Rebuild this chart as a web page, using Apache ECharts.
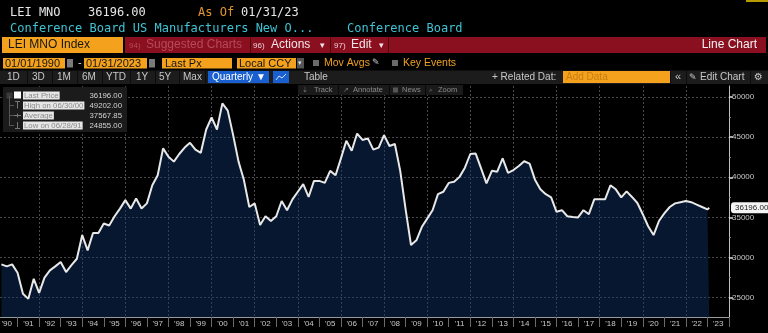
<!DOCTYPE html>
<html><head><meta charset="utf-8">
<script src="https://cdn.jsdelivr.net/npm/echarts@6/dist/echarts.min.js"></script>
<style>html,body{margin:0;padding:0;background:#000;}#c{width:768px;height:333px;}</style>
</head><body><div id="c"></div>
<script>
// ---- data ----
const yearLabels = ["'90","'91","'92","'93","'94","'95","'96","'97","'98","'99","'00","'01","'02","'03","'04","'05","'06","'07","'08","'09","'10","'11","'12","'13","'14","'15","'16","'17","'18","'19","'20","'21","'22","'23"];
// quarterly values 1990Q1 .. 2022Q4
const quarterlyValues = [
 29150,28900,29150,28100, 25500,24855,27350,25600, 27500,28400,28900,29450, 28200,29050,29850,32800,
 30900,33050,33050,34250, 34000,35150,36100,37150, 36100,37350,36100,36750, 39000,40250,43600,42550,
 41950,42900,43700,44300, 43450,43050,45950,47450, 45950,49202,48300,45250, 41950,39650,36300,36750,
 34050,35150,34550,35150, 37050,35900,37250,38200, 39150,37550,39550,39550, 39300,40800,40250,42350,
 44550,43300,45450,44650, 44850,43450,43700,45250, 43900,44150,40800,36000, 31550,32150,33800,34850,
 35900,37900,38200,39300, 39450,40050,41200,42900, 42950,41100,39250,40800, 40700,42350,40550,40900,
 41400,42000,41700,39700, 38500,37900,37500,35700, 35900,35150,35050,35000, 35900,35400,37250,37250,
 37250,39000,38500,37500, 38250,37550,36800,35400, 33900,32800,34550,35500, 36300,36750,36900,37050,
 36900,36600,36300,36000
];
const lastValue = 36196;        // 01/31/23
const lastDateYear = 2023 + 30/365;
const yTickValues = [25000,30000,35000,40000,45000,50000];
const yMinorValues = [27500,32500,37500,42500,47500];
const legendRows = [
  ['Last Price','36196.00'],
  ['High on 06/30/00','49202.00'],
  ['Average','37567.85'],
  ['Low on 06/28/91','24855.00']
];

// series points at quarter ends
const seriesData = quarterlyValues.map((v,q)=>[1990 + (q+1)/4, v]);
seriesData.push([lastDateYear, lastValue]);

// ---- ui helpers ----
const SANS = "'Liberation Sans', Arial, sans-serif";
const MONO = "'DejaVu Sans Mono', monospace";
function T(x, y, text, size, color, extra) {
  const st = Object.assign({text: text, fill: color, fontSize: size, fontFamily: SANS,
    textVerticalAlign: 'middle', verticalAlign: 'middle', textAlign: 'left', align: 'left'}, extra || {});
  if (st.textAlign === 'right') st.align = 'right';
  return {type: 'text', x: x, y: y, z: 100, silent: true, style: st};
}
function R(x, y, w, h, fill, extra) {
  return Object.assign({type: 'rect', z: 99, silent: true, shape: {x: x, y: y, width: w, height: h}, style: {fill: fill}}, extra || {});
}
function L(x1, y1, x2, y2, color, w) {
  return {type: 'line', z: 100, silent: true, shape: {x1: x1, y1: y1, x2: x2, y2: y2}, style: {stroke: color, lineWidth: w || 1}};
}
const ORANGE = '#f4a21e';
const RED = '#8a1020';
const g = [];
// row 1
g.push(T(10, 13, 'LEI MNO', 12, '#e6e6e6', {fontFamily: MONO}));
g.push(T(88, 13, '36196.00', 12, '#e6e6e6', {fontFamily: MONO}));
g.push(T(198, 13, 'As Of', 12, '#e0942c', {fontFamily: MONO}));
g.push(T(241, 13, '01/31/23', 12, '#e6e6e6', {fontFamily: MONO}));
g.push(R(746, 0, 22, 2, '#b89a00'));
// row 2
g.push(T(10, 28.5, 'Conference Board US Manufacturers New O...', 12, '#3fc3d4', {fontFamily: MONO}));
g.push(T(347, 28.5, 'Conference Board', 12, '#3fc3d4', {fontFamily: MONO}));
// row 3
g.push(R(2, 37, 121, 16, ORANGE));
g.push(T(8, 45, 'LEI MNO Index', 12, '#151515'));
g.push(R(125, 37, 641, 16, RED));
g.push(L(250.5, 37, 250.5, 53, '#4a0810'));
g.push(L(330.5, 37, 330.5, 53, '#4a0810'));
g.push(L(388.5, 37, 388.5, 53, '#4a0810'));
g.push(T(129, 45.5, '94)', 8, '#b54a5a'));
g.push(T(146, 45, 'Suggested Charts', 12, '#b54a5a'));
g.push(T(253, 45.5, '96)', 8, '#e8d0d4'));
g.push(T(271, 45, 'Actions', 12, '#f2e6e8'));
g.push(T(320, 45.5, '\u25BE', 9, '#f2e6e8'));
g.push(T(334, 45.5, '97)', 8, '#e8d0d4'));
g.push(T(351, 45, 'Edit', 12, '#f2e6e8'));
g.push(T(379, 45.5, '\u25BE', 9, '#f2e6e8'));
g.push(T(757, 45, 'Line Chart', 12, '#f2f2f2', {textAlign: 'right'}));
// row 4
g.push(R(3, 58, 62, 10.5, ORANGE));
g.push(T(5, 63.5, '01/01/1990', 11, '#151515'));
g.push(R(67, 59, 6, 8.5, '#7a7a7a'));
g.push(T(78, 63, '-', 11, '#dddddd'));
g.push(R(84, 58, 63, 10.5, ORANGE));
g.push(T(86, 63.5, '01/31/2023', 11, '#151515'));
g.push(R(149, 59, 6, 8.5, '#7a7a7a'));
g.push(R(162, 58, 70, 10.5, ORANGE));
g.push(T(165, 63.5, 'Last Px', 11, '#151515'));
g.push(R(237, 58, 59, 10.5, ORANGE));
g.push(T(239, 63.5, 'Local CCY', 11, '#151515'));
g.push(R(297, 58, 7, 10.5, '#555555'));
g.push(T(298, 63.5, '\u25BE', 7, '#dddddd'));
g.push(R(313, 60, 6, 6, '#6a6a6a'));
g.push(T(324, 63.5, 'Mov Avgs', 10.5, '#f0a020'));
g.push(T(372, 63, '\u270E', 9, '#cccccc', {fontFamily: "'DejaVu Sans'"}));
g.push(R(392, 60, 6, 6, '#6a6a6a'));
g.push(T(403, 63.5, 'Key Events', 10.5, '#f0a020'));
// row 5
g.push(R(0, 70.5, 768, 13.5, '#1c1c1c'));
[['1D',7],['3D',32],['1M',57],['6M',82],['YTD',106],['1Y',136],['5Y',159],['Max',183]].forEach(function(a){
  g.push(T(a[1], 77.5, a[0], 10, '#c8c8c8'));
});
[27,52,77,102,130,155,179,205].forEach(function(x){ g.push(L(x+0.5, 71, x+0.5, 84, '#0c0c0c')); });
g.push(R(208, 71, 61, 12, '#1a5fd0'));
g.push(T(212, 77.5, 'Quarterly \u25BC', 10, '#ffffff'));
g.push(R(273, 71, 16, 12, '#1a5fd0'));
g.push({type:'polyline', z:101, silent:true, shape:{points:[[276,80],[279,76],[282,78],[286,74]]}, style:{stroke:'#cfe0ff', lineWidth:1, fill:null}});
g.push(T(304, 77.5, 'Table', 10, '#c8c8c8'));
g.push(T(492, 77.5, '+ Related Dat:', 10, '#c8c8c8'));
g.push(R(563, 71, 107, 12, ORANGE));
g.push(T(566, 77.5, 'Add Data', 10, '#c97d12'));
g.push(T(675, 77, '\u00AB', 11, '#c8c8c8'));
g.push(T(689, 77.5, '\u270E', 9, '#c8c8c8', {fontFamily: "'DejaVu Sans'"}));
g.push(T(700, 77.5, 'Edit Chart', 10, '#c8c8c8'));
g.push(T(754, 77.5, '\u2699', 10, '#c8c8c8', {fontFamily: "'DejaVu Sans'"}));
g.push(L(670.5, 71, 670.5, 84, '#0c0c0c'));
g.push(L(686.5, 71, 686.5, 84, '#0c0c0c'));
g.push(L(750.5, 71, 750.5, 84, '#0c0c0c'));
// chart toolbar
g.push(R(298, 85, 165, 10, '#1a1a1a'));
g.push(T(302, 90, '\u21E3', 7, '#7a7a7a', {fontFamily: "'DejaVu Sans'"}));
g.push(T(314, 90, 'Track', 7.5, '#8a8a8a'));
g.push(T(343, 90, '\u2197', 7, '#7a7a7a', {fontFamily: "'DejaVu Sans'"}));
g.push(T(353, 90, 'Annotate', 7.5, '#8a8a8a'));
g.push(R(393, 87.5, 5, 5, '#555555'));
g.push(T(402, 90, 'News', 7.5, '#8a8a8a'));
g.push(T(429, 90, '\u2315', 7, '#7a7a7a', {fontFamily: "'DejaVu Sans'"}));
g.push(T(438, 90, 'Zoom', 7.5, '#8a8a8a'));
[338,389,425].forEach(function(x){ g.push(L(x+0.5, 85, x+0.5, 95, '#0a0a0a')); });
// legend box
g.push(R(3, 87, 124, 45, '#1b1b1b'));
g.push(L(9.5, 96, 9.5, 126, '#555555'));
g.push(R(6.5, 92.5, 6, 6, '#3a3a3a'));
g.push(R(14, 91.5, 7, 7, '#ffffff'));
legendRows.forEach(function(r, i){
  const cy = 95.5 + i*10;
  if (i > 0) g.push(L(10, cy, 14, cy, '#555555'));
  g.push(T(23, cy, r[0], 7.8, '#8a8a8a', {backgroundColor: '#e6e6e6', padding: [0, 1]}));
  g.push(T(122, cy, r[1], 7.8, '#d2d2d2', {textAlign: 'right'}));
});
g.push(L(17.5, 101.5, 17.5, 108.5, '#777')); g.push(L(15, 101.5, 20, 101.5, '#777'));
g.push(L(14, 115.5, 21, 115.5, '#777')); g.push(L(17.5, 113.5, 17.5, 117.5, '#777'));
g.push(L(17.5, 122, 17.5, 128.5, '#777')); g.push(L(15, 128.5, 20, 128.5, '#777'));

// ---- chart ----
const chart = echarts.init(document.getElementById('c'), null, {renderer: 'canvas'});
const gridStyle = {show: true, lineStyle: {color: '#4a4a4a', type: [2, 2], width: 1}};
chart.setOption({
  backgroundColor: '#000000',
  animation: false,
  grid: {left: -4, right: 39, top: 86, bottom: 16, containLabel: false, outerBoundsMode: 'none'},
  xAxis: [
    {type: 'value', min: 1990, max: 2024, interval: 2, axisLine: {show: false}, axisTick: {show: false},
     axisLabel: {show: false}, splitLine: gridStyle},
    {type: 'category', data: yearLabels, boundaryGap: true, position: 'bottom',
     axisLine: {show: true, lineStyle: {color: '#9a9a9a', width: 1}},
     axisTick: {show: true, length: 10, lineStyle: {color: '#6a6a6a'}},
     axisLabel: {color: '#c8c8c8', fontSize: 8, fontFamily: SANS, margin: 3, interval: 0},
     splitLine: {show: false}}
  ],
  yAxis: [
    {type: 'value', position: 'right', min: 22596, max: 51370,
     axisLine: {show: true, lineStyle: {color: '#bdbdbd', width: 1}},
     axisTick: {show: true, length: 4, customValues: yTickValues, lineStyle: {color: '#dddddd', width: 1.5}},
     axisLabel: {show: true, customValues: yTickValues, color: '#c8c8c8', fontSize: 8, fontFamily: SANS, margin: 3,
       formatter: function(v){ return String(Math.round(v)); }},
     splitLine: gridStyle},
    {type: 'value', position: 'right', min: 22596, max: 51370,
     axisLine: {show: false},
     axisTick: {show: true, length: 2, customValues: yMinorValues, lineStyle: {color: '#888888'}},
     axisLabel: {show: false}, splitLine: {show: false}}
  ],
  series: [{
    type: 'line', xAxisIndex: 0, yAxisIndex: 0, data: seriesData,
    showSymbol: false, symbol: 'none', smooth: false,
    lineStyle: {color: '#e8e8e8', width: 2},
    areaStyle: {color: 'rgba(13,53,107,0.62)', origin: 'start'},
    markLine: {
      silent: true, symbol: 'none', animation: false,
      lineStyle: {color: 'rgba(0,0,0,0)', width: 1},
      data: [{yAxis: lastValue}],
      label: {show: true, position: 'end', distance: 2, formatter: lastValue.toFixed(2),
        color: '#222222', backgroundColor: '#f4f4f4', borderRadius: 3, padding: [2, 3, 1, 4],
        fontSize: 8, fontFamily: SANS, opacity: 1}
    }
  }],
  graphic: g
});
</script>
</body></html>
